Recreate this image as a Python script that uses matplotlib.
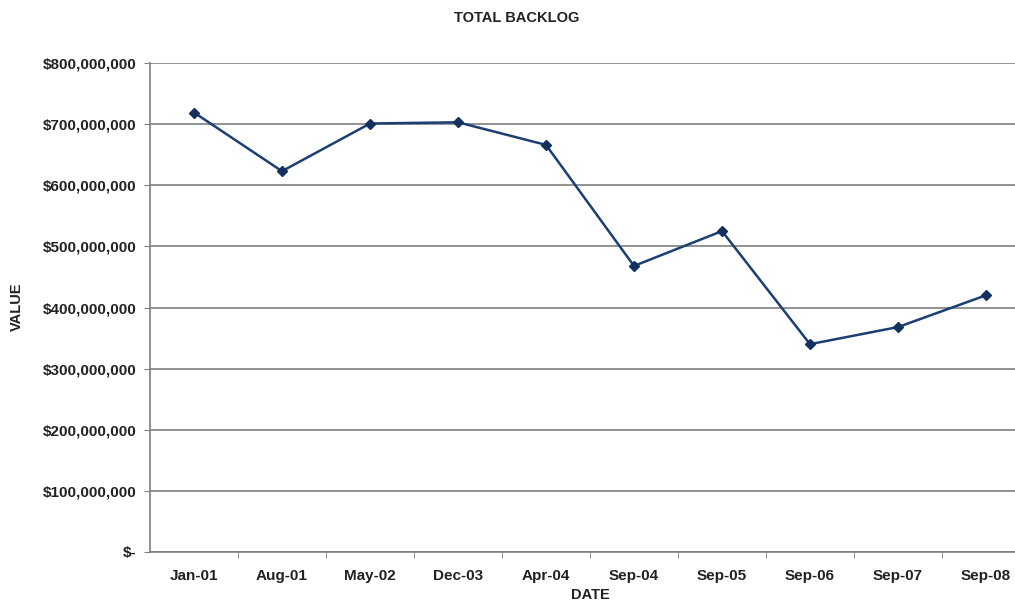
import numpy as np
import matplotlib.pyplot as plt
from matplotlib.ticker import FuncFormatter, FixedLocator

dates = ['Jan-01', 'Aug-01', 'May-02', 'Dec-03', 'Apr-04',
         'Sep-04', 'Sep-05', 'Sep-06', 'Sep-07', 'Sep-08']
backlog = [719e6, 623e6, 701e6, 703e6, 666e6,
           468e6, 525e6, 340e6, 368e6, 420e6]

plt.rcParams['font.family'] = ['Liberation Sans', 'DejaVu Sans']

def money(v, pos):
    if v == 0:
        return '$-'
    return f"${v:,.0f}"

fig = plt.figure(figsize=(10.15, 6.01), dpi=100)
ax = fig.add_axes([150 / 1015, 49 / 601, 880 / 1015, 489 / 601])

x = np.arange(len(dates))
ax.plot(x, backlog, color='#1b3f73', lw=1.8, marker='D', markersize=5,
        markerfacecolor='#14305e', markeredgecolor='#14305e', zorder=3)

ax.set_xlim(-0.5, len(dates) - 0.5)
ax.set_ylim(0, 800e6)
ax.set_yticks(np.arange(0, 800e6 + 1, 100e6))
ax.yaxis.set_major_formatter(FuncFormatter(money))
ax.set_xticks(x)
ax.set_xticklabels(dates)
ax.xaxis.set_minor_locator(FixedLocator(np.arange(0.5, len(dates) - 1, 1.0)))
ax.tick_params(axis='x', which='major', length=0, pad=12)
ax.tick_params(axis='x', which='minor', length=4, color='#808080')
ax.tick_params(axis='y', length=4, color='#808080', pad=6)
for lab in ax.get_xticklabels() + ax.get_yticklabels():
    lab.set_fontsize(11)
    lab.set_fontweight('bold')
    lab.set_color('#222222')

ax.grid(axis='y', color='#7f7f7f', lw=1.2)
ax.set_axisbelow(True)
for side in ['top', 'right']:
    ax.spines[side].set_visible(False)
for side in ['left', 'bottom']:
    ax.spines[side].set_color('#7f7f7f')
    ax.spines[side].set_linewidth(1.2)

fig.text(517 / 1015, 1 - 18 / 601, 'TOTAL BACKLOG', ha='center', va='center',
         fontsize=10.5, fontweight='bold', color='#222222')
fig.text(17 / 1015, 1 - 307 / 601, 'VALUE', ha='center', va='center',
         rotation=90, fontsize=10.5, fontweight='bold', color='#222222')
fig.text(590 / 1015, 1 - 595 / 601, 'DATE', ha='center', va='center',
         fontsize=10.5, fontweight='bold', color='#222222')

fig.savefig('out.png', dpi=100)
